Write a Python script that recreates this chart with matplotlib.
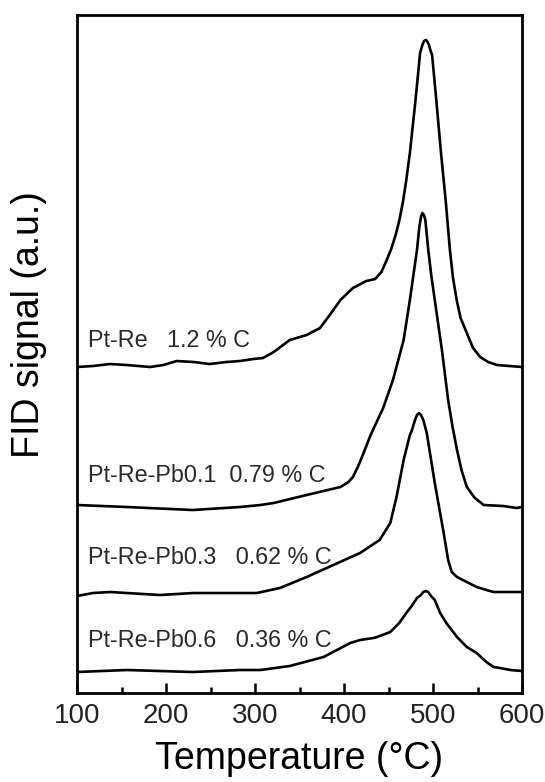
import matplotlib
matplotlib.use("Agg")
import matplotlib.pyplot as plt
from matplotlib.ticker import MultipleLocator

plt.rcParams['font.family'] = ['Liberation Sans', 'DejaVu Sans']

# TPO profiles, temperature in deg C, FID signal already offset per sample
t_ptre = [100, 118, 137, 156, 182, 197, 212, 231, 249, 268, 283, 298, 309,
          321, 339, 358, 373, 384, 396, 410, 425, 435, 442, 448, 453, 458,
          462, 466, 470, 474, 477, 480, 483, 485.5, 488, 490, 492, 494,
          495.5, 497, 499, 501.5, 504, 506.5, 509, 512, 514.5, 519, 522.5,
          526.6, 531, 538, 545, 553, 562, 572, 586, 600]
s_ptre = [326, 327, 329, 328, 326, 328, 332, 331, 329, 331, 332, 334, 335,
          341, 353, 358, 365, 378, 393, 405, 412, 414, 421, 433, 444, 458,
          472, 490, 513, 540, 565, 590, 617, 640, 648, 652, 653, 651,
          648, 643, 638, 614, 590, 565, 540, 513, 490, 443, 415,
          393, 375, 360, 345, 336, 331, 328, 327, 326]

t_pb01 = [100, 156, 230, 283, 306, 321, 358, 396, 405, 410, 416, 422, 429,
          433, 444, 455, 467, 474, 478, 482, 484.6, 486.5, 488, 489.8, 491.4,
          494.7, 498, 502, 506, 510, 517, 522, 527, 532, 538, 547, 557, 579,
          594, 600]
s_pb01 = [188, 186, 183, 186, 188, 190, 198, 206, 211, 216, 227, 240, 256,
          264, 285, 313, 353, 393, 418, 443, 466, 476, 480, 478, 473,
          443, 418, 393, 368, 343, 293, 266, 243, 223, 206, 195, 188, 187,
          185, 186]

t_pb03 = [100, 118, 137, 156, 193, 231, 268, 302, 328, 358, 388, 418, 440,
          452, 459, 467, 474, 476, 479.8, 482, 484.3, 486.5, 489.1, 493,
          502, 512, 517, 521, 527, 538, 549, 560, 568, 600]
s_pb03 = [97, 100, 101, 100, 98, 100, 100, 100, 105, 116, 128, 140, 153,
          170, 196, 233, 258, 262, 273, 278, 280, 278, 273, 260,
          210, 160, 133, 121, 116, 111, 106, 103, 101, 101]

t_pb06 = [100, 156, 230, 283, 306, 339, 377, 407, 418, 433, 437, 452, 462,
          470, 476, 482, 486.5, 489, 491.8, 494.5, 497.8, 502, 508, 515,
          527, 538, 549, 560, 568, 575, 587, 600]
s_pb06 = [21, 23, 21, 23, 23, 27, 36, 50, 53, 55, 56, 61, 70,
          80, 87, 95, 98, 101, 102, 101, 97, 93, 80, 70,
          56, 46, 40, 31, 26, 25, 23, 22]

labels = ["Pt-Re   1.2 % C", "Pt-Re-Pb0.1  0.79 % C",
          "Pt-Re-Pb0.3   0.62 % C", "Pt-Re-Pb0.6   0.36 % C"]
label_y = [346, 211, 129, 46]

fig = plt.figure(figsize=(5.45, 7.82), dpi=100)
ax = fig.add_axes([0.1413, 0.1138, 0.8165, 0.867])

for t, s in [(t_ptre, s_ptre), (t_pb01, s_pb01), (t_pb03, s_pb03), (t_pb06, s_pb06)]:
    ax.plot(t, s, color='black', lw=1.9, solid_joinstyle='round', solid_capstyle='round')

for txt, y in zip(labels, label_y):
    ax.text(112, y, txt, fontsize=16.8, color='#2a2a2a', va='baseline', ha='left')

ax.set_xlim(100, 600)
ax.set_ylim(0, 678)
ax.xaxis.set_major_locator(MultipleLocator(100))
ax.xaxis.set_minor_locator(MultipleLocator(50))
ax.tick_params(axis='x', which='major', direction='in', length=7, width=1.8,
               labelsize=20, pad=7, top=False, labelcolor='#222222')
ax.tick_params(axis='x', which='minor', direction='in', length=4, width=1.8, top=False)
ax.set_yticks([])
for sp in ax.spines.values():
    sp.set_linewidth(2)

ax.set_xlabel("Temperature (°C)", fontsize=27, labelpad=9)
ax.set_ylabel("FID signal (a.u.)", fontsize=27)
ax.yaxis.set_label_coords(-0.067, 0.543)

fig.savefig("out.png", dpi=100)
